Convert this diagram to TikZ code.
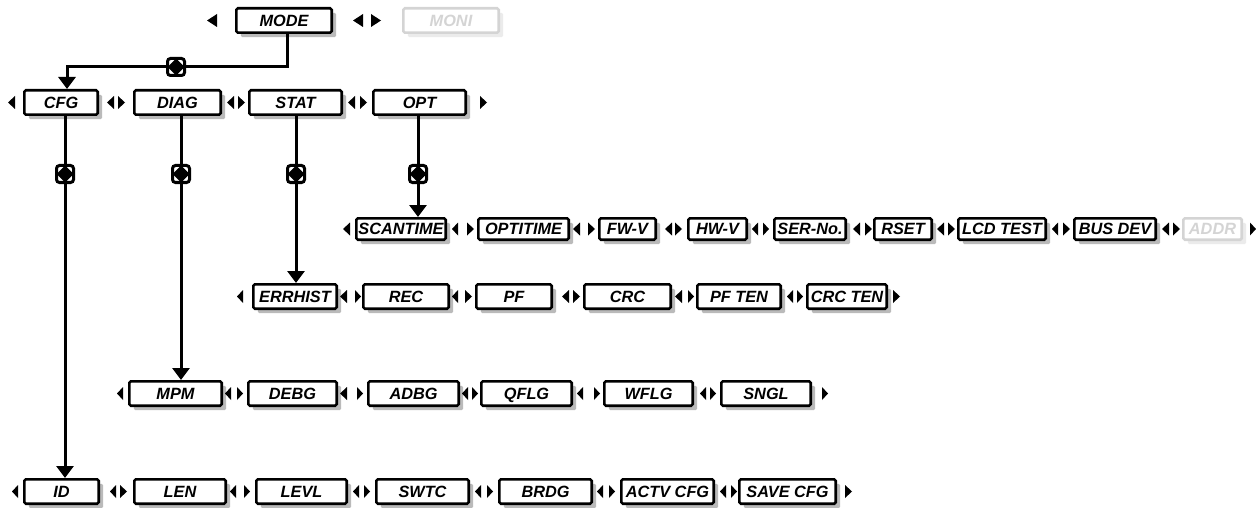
\documentclass[tikz,border=0pt]{standalone}
\usepackage{fontspec}
\setmainfont{Liberation Sans}
\usetikzlibrary{arrows.meta,shadows}
\tikzset{
  boxbase/.style={draw, line width=2.6pt, fill=white, rounded corners=1.5pt, inner sep=0pt,
    text height=11.6pt, text depth=0pt,
    font=\fontsize{16.3}{19}\selectfont\bfseries\itshape},
  bx/.style={boxbase, drop shadow={shadow xshift=4.5pt, shadow yshift=-4.5pt, fill=black!27, opacity=1}},
  bxd/.style={boxbase, draw=black!17, text=black!17,
    drop shadow={shadow xshift=4.5pt, shadow yshift=-4.5pt, fill=black!8, opacity=1}},
  conn/.style={line width=3pt},
  arr/.style={-{Triangle[width=17pt,length=12pt]}},
  jn/.style={draw, line width=3pt, fill=white, rounded corners=3pt, minimum size=17pt, inner sep=0pt},
}
% \ibox[style]{name}{x1}{x2}{y1}{y2}{text}
\newcommand\ibox[7][bx]{\node[#1, minimum width={#4-#3-2.6}, minimum height={#6-#5-2.6}] (#2) at ({(#3+#4)/2},{(#5+#6)/2}) {#7};}
% left-pointing triangle: tip x, base x, centre y
\newcommand\tlft[3]{\fill (#1,#3) -- (#2,#3-6.5) -- (#2,#3+6.5) -- cycle;}
% right-pointing triangle: base x, tip x, centre y
\newcommand\trgt[3]{\fill (#2,#3) -- (#1,#3-6.5) -- (#1,#3+6.5) -- cycle;}
\newcommand\jdiam[1]{\fill (#1) +(0,-8.5) -- +(8.5,0) -- +(0,8.5) -- +(-8.5,0) -- cycle;}
\begin{document}
\begin{tikzpicture}[x=1pt,y=-1pt]
\useasboundingbox (0,0) rectangle (1256,508);

% Row 1
\fill (207,20.5) -- (217,14) -- (217,27) -- cycle;
\ibox{mode}{235}{333}{7}{34}{MODE}
\fill (353,20.5) -- (363,14) -- (363,27) -- cycle;
\fill (381,20.5) -- (371,14) -- (371,27) -- cycle;
\ibox[bxd]{moni}{402}{500}{7}{34}{MONI}

% Row 2
\tlft{8}{15}{102.5}
\ibox{cfg}{23}{99}{89}{116}{CFG}
\tlft{107}{114}{102.5}\trgt{118}{125}{102.5}
\ibox{diag}{133}{222}{89}{116}{DIAG}
\tlft{227}{234}{102.5}\trgt{238}{245}{102.5}
\ibox{stat}{248}{343}{89}{116}{STAT}
\tlft{348}{355}{102.5}\trgt{360}{367}{102.5}
\ibox{opt}{372}{467}{89}{116}{OPT}
\trgt{480}{487}{102.5}

% Row 3
\tlft{343}{350}{229}
\ibox{scantime}{355}{447}{217}{241}{SCANTIME}
\tlft{452}{458}{229}\trgt{467}{474}{229}
\ibox{optitime}{477}{570}{217}{241}{OPTITIME}
\tlft{573}{580}{229}\trgt{588}{595}{229}
\ibox{fwv}{598}{657}{217}{241}{FW-V}
\tlft{665}{672}{229}\trgt{675}{682}{229}
\ibox{hwv}{687}{748}{217}{241}{HW-V}
\tlft{752}{758}{229}\trgt{763}{769}{229}
\ibox{serno}{773}{847}{217}{241}{SER-No.}
\tlft{853}{860}{229}\trgt{865}{872}{229}
\ibox{rset}{873}{933}{217}{241}{RSET}
\tlft{937}{944}{229}\trgt{948}{955}{229}
\ibox{lcdtest}{957}{1047}{217}{241}{LCD TEST}
\tlft{1052}{1058}{229}\trgt{1063}{1070}{229}
\ibox{busdev}{1073}{1157}{217}{241}{BUS DEV}
\tlft{1162}{1169}{229}\trgt{1173}{1180}{229}
\ibox[bxd]{addr}{1182}{1243}{217}{241}{ADDR}
\trgt{1250}{1256}{229}

% Row 4
\tlft{237}{243}{296.5}
\ibox{errhist}{252}{338}{283}{310}{ERRHIST}
\tlft{340}{347}{296.5}\trgt{355}{361}{296.5}
\ibox{rec}{362}{450}{283}{310}{REC}
\tlft{452}{458}{296.5}\trgt{465}{472}{296.5}
\ibox{pf}{475}{553}{283}{310}{PF}
\tlft{562}{569}{296.5}\trgt{573}{580}{296.5}
\ibox{crc}{583}{672}{283}{310}{CRC}
\tlft{675}{682}{296.5}\trgt{688}{694}{296.5}
\ibox{pften}{696}{782}{283}{310}{PF TEN}
\tlft{787}{793}{296.5}\trgt{797}{803}{296.5}
\ibox{crcten}{806}{888}{283}{310}{CRC TEN}
\trgt{893}{900}{296.5}

% Row 5
\tlft{117}{123}{393.5}
\ibox{mpm}{128}{223}{380}{407}{MPM}
\tlft{225}{231}{393.5}\trgt{237}{243}{393.5}
\ibox{debg}{247}{338}{380}{407}{DEBG}
\tlft{340}{347}{393.5}\trgt{357}{363}{393.5}
\ibox{adbg}{367}{460}{380}{407}{ADBG}
\tlft{462}{468}{393.5}\trgt{472}{478}{393.5}
\ibox{qflg}{480}{573}{380}{407}{QFLG}
\tlft{577}{583}{393.5}\trgt{594}{600}{393.5}
\ibox{wflg}{603}{694}{380}{407}{WFLG}
\tlft{700}{706}{393.5}\trgt{710}{716}{393.5}
\ibox{sngl}{720}{812}{380}{407}{SNGL}
\trgt{822}{828}{393.5}

% Row 6
\tlft{12}{18}{491.5}
\ibox{id}{23}{100}{478}{505}{ID}
\tlft{110}{116}{491.5}\trgt{120}{127}{491.5}
\ibox{len}{133}{227}{478}{505}{LEN}
\tlft{230}{236}{491.5}\trgt{244}{250}{491.5}
\ibox{levl}{255}{348}{478}{505}{LEVL}
\tlft{353}{359}{491.5}\trgt{364}{370}{491.5}
\ibox{swtc}{375}{470}{478}{505}{SWTC}
\tlft{475}{481}{491.5}\trgt{487}{493}{491.5}
\ibox{brdg}{498}{593}{478}{505}{BRDG}
\tlft{597}{603}{491.5}\trgt{609}{615}{491.5}
\ibox{actvcfg}{620}{715}{478}{505}{ACTV CFG}
\tlft{720}{726}{491.5}\trgt{731}{737}{491.5}
\ibox{savecfg}{738}{837}{478}{505}{SAVE CFG}
\trgt{845}{852}{491.5}

% Junction positions
\coordinate (c0) at (176,67);
\coordinate (c1) at (65,174);
\coordinate (c2) at (181,174);
\coordinate (c3) at (296,174);
\coordinate (c4) at (418,174);

% Connectors
\draw[conn,arr] ([xshift=3pt]mode.south) |- (c0) -| ([xshift=6pt]cfg.north);
\draw[conn,arr] (cfg.south -| c1) -- (c1) -- (id.north -| c1);
\draw[conn,arr] (diag.south -| c2) -- (c2) -- (mpm.north -| c2);
\draw[conn,arr] (stat.south -| c3) -- (c3) -- (errhist.north -| c3);
\draw[conn,arr] (opt.south -| c4) -- (c4) -- (scantime.north -| c4);

% Junction symbols
\foreach \i in {0,...,4}{
  \node[jn] (j\i) at (c\i) {};
  \jdiam{j\i.center}
}
\end{tikzpicture}
\end{document}
